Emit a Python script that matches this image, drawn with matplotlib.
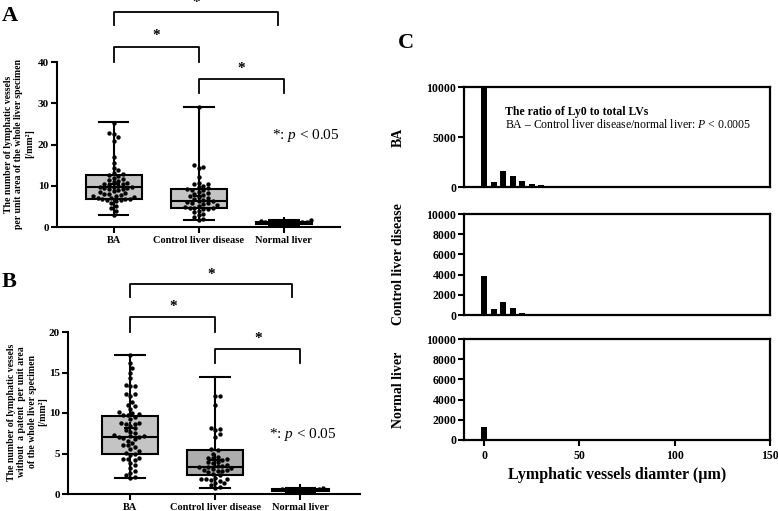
import numpy as np
import matplotlib
matplotlib.use("Agg")
import matplotlib.pyplot as plt

plt.rcParams['font.family'] = 'Liberation Serif'
plt.rcParams['mathtext.fontset'] = 'custom'
plt.rcParams['mathtext.rm'] = 'Liberation Serif'
plt.rcParams['mathtext.it'] = 'Liberation Serif:italic'
plt.rcParams['mathtext.bf'] = 'Liberation Serif:bold'

groups = ['BA', 'Control liver disease', 'Normal liver']

# A: lymphatic vessels per unit area [/mm2]
a_ba = [25.3, 22.7, 22.5, 21.8, 20.9, 17.0, 15.6, 14.3, 13.9, 13.2, 12.8, 12.5,
        12.3, 12.0, 11.6, 11.4, 11.1, 10.9, 10.7, 10.5, 10.4, 10.2, 10.0, 9.8,
        9.7, 9.6, 9.5, 9.4, 9.3, 9.1, 8.9, 8.7, 8.5, 8.3, 8.1, 8.0, 7.8, 7.6,
        7.4, 7.3, 7.1, 7.0, 6.9, 6.8, 6.7, 6.6, 6.5, 6.4,
        5.9, 5.2, 4.6, 3.8, 2.8]
a_cld = [29.1, 15.0, 14.6, 14.3, 12.2, 10.7, 10.5, 10.4, 10.0, 9.6, 9.4, 9.2,
         9.0, 8.9, 8.5, 8.3, 8.0, 7.8, 7.5, 7.3, 7.0, 6.8, 6.6, 6.4, 6.2, 6.0,
         5.9, 5.7, 5.5, 5.3, 5.1, 4.9, 4.7, 4.6, 4.5, 4.4, 4.3, 4.0, 3.6, 3.2,
         2.8, 2.4, 2.0, 1.7]
a_nl = [1.6, 1.4, 1.3, 1.2, 1.1, 1.0, 1.0, 0.9, 0.9, 0.8, 0.7, 0.6]
# whisker min, Q1, median, Q3, whisker max
a_stats = [(2.8, 6.7, 9.6, 12.5, 25.4), (1.7, 4.6, 6.2, 9.1, 29.1), (0.5, 0.8, 1.0, 1.2, 1.6)]

# B: lymphatic vessels without a patent lumen per unit area [/mm2]
b_ba = [17.1, 16.2, 15.5, 15.0, 14.3, 13.4, 13.3, 13.3, 12.4, 12.3, 12.1, 11.4,
        11.0, 10.9, 10.5, 10.1, 10.0, 9.9, 9.8, 9.7, 9.5, 9.2, 8.8, 8.8, 8.7,
        8.6, 8.4, 8.1, 7.9, 7.7, 7.5, 7.3, 7.2, 7.1, 7.0, 7.0, 6.9, 6.8, 6.6,
        6.3, 6.1, 6.0, 5.8, 5.5, 5.3, 5.1, 5.0, 4.8, 4.4, 4.3, 4.3, 4.2, 3.8,
        3.6, 3.2, 2.9, 2.6, 2.4, 2.1, 2.0]
b_cld = [12.1, 12.1, 11.0, 8.2, 8.0, 7.9, 7.4, 7.0, 5.5, 5.4, 5.0, 4.6, 4.5,
         4.4, 4.3, 4.2, 4.0, 3.9, 3.8, 3.6, 3.5, 3.4, 3.3, 3.3, 3.2, 3.1, 3.0,
         3.0, 2.9, 2.8, 2.7, 2.5, 2.3, 2.0, 1.9, 1.8, 1.8, 1.7, 1.6, 1.4, 1.3,
         1.1, 0.9, 0.8]
b_nl = [0.7, 0.6, 0.6, 0.5, 0.5, 0.5, 0.4, 0.4, 0.3, 0.3]
b_stats = [(2.0, 5.0, 7.0, 9.6, 17.1), (0.8, 2.4, 3.3, 5.4, 14.5), (0.3, 0.4, 0.5, 0.6, 0.7)]

# C: histogram of lymphatic vessel diameter
diam_bins = [0, 5, 10, 15, 20, 25, 30, 35]
c_ba = [10200, 500, 1650, 1100, 630, 300, 200, 60]
c_cld = [3850, 600, 1250, 650, 200, 50, 20, 0]
c_nl = [1250, 0, 0, 40, 60, 30, 10, 0]

W, H = 778, 511
fig = plt.figure(figsize=(W / 100, H / 100), dpi=100)


def box(l, t, r, b):
    return [l / W, 1 - b / H, (r - l) / W, (b - t) / H]


def swarm(ax, x0, vals, d=4.6):
    pix = ax.transData.transform([(x0, v) for v in vals])[:, 1]
    ppu = ax.transData.transform((1, 0))[0] - ax.transData.transform((0, 0))[0]
    offs = np.zeros(len(vals))
    placed = []
    for i in np.argsort(pix):
        y = pix[i]
        k = 0
        while True:
            cands = [0.0] if k == 0 else [k * d / 2, -k * d / 2]
            ok = None
            for c in cands:
                if all((c - px) ** 2 + (y - py) ** 2 >= (0.95 * d) ** 2 for px, py in placed):
                    ok = c
                    break
            if ok is not None:
                break
            k += 1
        placed.append((ok, y))
        offs[i] = ok / ppu
    return x0 + offs


def dot_panel(ax, data, stats, fills, xlim, ylim, yticks, brackets, ptext):
    ax.set_xlim(*xlim)
    ax.set_ylim(*ylim)
    bstats = []
    for s in stats:
        bstats.append(dict(whislo=s[0], q1=s[1], med=s[2], q3=s[3], whishi=s[4], fliers=[]))
    bp = ax.bxp(bstats, positions=[1, 2, 3], widths=0.66, capwidths=0.35,
                patch_artist=True, showfliers=False,
                boxprops=dict(linewidth=1.5, edgecolor='black'),
                whiskerprops=dict(linewidth=1.5, color='black'),
                capprops=dict(linewidth=1.5, color='black'),
                medianprops=dict(linewidth=1.5, color='black'))
    for p, f in zip(bp['boxes'], fills):
        p.set_facecolor(f)
    for i, vals in enumerate(data):
        xs = swarm(ax, i + 1, vals)
        ax.scatter(xs, vals, s=10, color='black', zorder=4, linewidths=0)
        ax.plot(i + 1, np.mean(vals), marker='+', ms=9, mew=1.5, color='black', zorder=5)
    ax.spines['top'].set_visible(False)
    ax.spines['right'].set_visible(False)
    ax.spines['left'].set_linewidth(1.5)
    ax.spines['bottom'].set_linewidth(1.5)
    ax.set_xticks([1, 2, 3])
    ax.set_xticklabels(groups, fontsize=7.5, fontweight='bold')
    ax.set_yticks(yticks)
    ax.set_yticklabels([str(v) for v in yticks], fontsize=8, fontweight='bold')
    ax.tick_params(axis='both', width=1.5, length=4, pad=2)
    ax.tick_params(axis='x', length=4, pad=2.5)
    for x1, x2, yl, yh, ys in brackets:
        ax.plot([x1, x1, x2, x2], [yl, yh, yh, yl], color='black', lw=1.3, clip_on=False)
        ax.text((x1 + x2) / 2, ys, '*', ha='center', va='center', fontsize=11,
                fontweight='bold', clip_on=False)
    ax.text(ptext[0], ptext[1], '*: $p$ < 0.05', fontsize=11, ha='left', va='center')


# panel A
axA = fig.add_axes(box(57, 62, 340, 227))
dot_panel(axA, [a_ba, a_cld, a_nl], a_stats, ['#c4c4c4', '#c4c4c4', '#c4c4c4'],
          (0.335, 3.66), (0, 40), [0, 10, 20, 30, 40],
          [(1, 2.93, 49.0, 52.1, 54.5), (1, 2, 40.0, 43.6, 46.4), (2, 3, 32.5, 35.9, 38.5)],
          (2.86, 22.3))
fig.text(19 / W, 1 - 144 / H,
         'The number of lymphatic vessels\nper unit area of the whole liver specimen\n[/mm²]',
         rotation=90, ha='center', va='center', fontsize=7, fontweight='bold',
         multialignment='center')

# panel B
axB = fig.add_axes(box(68, 332, 360, 494))
dot_panel(axB, [b_ba, b_cld, b_nl], b_stats, ['#c4c4c4', '#adadad', '#c4c4c4'],
          (0.27, 3.7), (0, 20), [0, 5, 10, 15, 20],
          [(1, 2.9, 24.3, 25.9, 27.1), (1, 2, 20.0, 21.9, 23.1), (2, 3, 16.2, 17.9, 19.2)],
          (2.63, 7.3))
fig.text(27 / W, 1 - 412 / H,
         'The number of lymphatic vessels\nwithout  a patent  per unit area\nof the whole liver specimen\n[/mm²]',
         rotation=90, ha='center', va='center', fontsize=7, fontweight='bold',
         multialignment='center')

# panel C
c_rows = [(87, 187, c_ba, 'BA', [0, 5000, 10000]),
          (214, 315, c_cld, 'Control liver disease', [0, 2000, 4000, 6000, 8000, 10000]),
          (339, 440, c_nl, 'Normal liver', [0, 2000, 4000, 6000, 8000, 10000])]
c_axes = []
for t, b, counts, name, yt in c_rows:
    ax = fig.add_axes(box(464, t, 770, b))
    ax.bar(diam_bins, counts, width=3.2, color='black')
    ax.set_xlim(-10.5, 150)
    ax.set_ylim(0, 10000)
    ax.set_yticks(yt)
    ax.set_yticklabels([str(v) for v in yt], fontsize=8.5, fontweight='bold')
    for sp in ax.spines.values():
        sp.set_linewidth(1.6)
    ax.tick_params(axis='y', width=1.5, length=4, pad=1.5)
    ax.set_ylabel(name, fontsize=10, fontweight='bold')
    ax.yaxis.set_label_coords(-59 / 306, 0.5)
    c_axes.append(ax)

c_axes[0].tick_params(axis='x', bottom=False, labelbottom=False)
c_axes[1].tick_params(axis='x', bottom=False, labelbottom=False)
c_axes[2].set_xticks([0, 50, 100, 150])
c_axes[2].set_xticklabels(['0', '50', '100', '150'], fontsize=8.5, fontweight='bold')
c_axes[2].tick_params(axis='x', width=1.5, length=4, pad=3)
c_axes[2].set_xlabel('Lymphatic vessels diamter (µm)', fontsize=11.5, fontweight='bold',
                     labelpad=4)

c_axes[0].text(41 / 306, 0.75, 'The ratio of Ly0 to total LVs', transform=c_axes[0].transAxes,
               fontsize=8.5, fontweight='bold', ha='left', va='center')
c_axes[0].text(41 / 306, 0.63, 'BA – Control liver disease/normal liver: $P$ < 0.0005',
               transform=c_axes[0].transAxes, fontsize=8.5, ha='left', va='center')

# panel letters
fig.text(2 / W, 1 - 16 / H, 'A', fontsize=16, fontweight='bold', ha='left', va='center')
fig.text(2 / W, 1 - 282 / H, 'B', fontsize=16, fontweight='bold', ha='left', va='center')
fig.text(398 / W, 1 - 43 / H, 'C', fontsize=16, fontweight='bold', ha='left', va='center')

fig.savefig('out.png', dpi=100)
